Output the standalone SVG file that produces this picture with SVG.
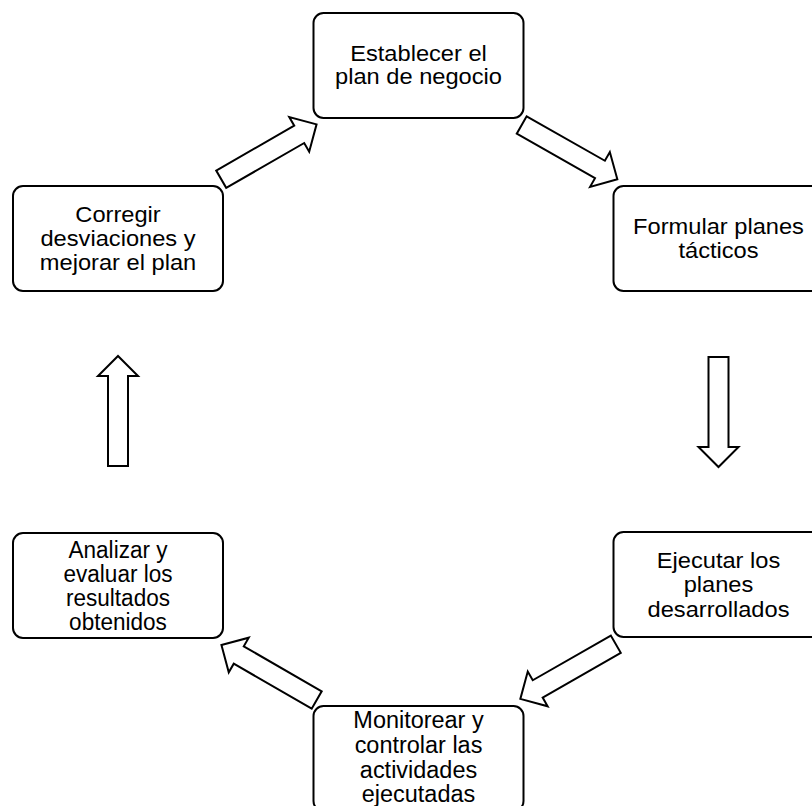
<svg xmlns="http://www.w3.org/2000/svg" xmlns:xlink="http://www.w3.org/1999/xlink" width="812" height="806" viewBox="0 0 812 806">
<style>
.box{fill:#fff;stroke:#000;stroke-width:2}
.arr{fill:#fff;stroke:#000;stroke-width:2;stroke-linejoin:miter}
.lbl{font-family:"Liberation Sans",Arial,Helvetica,sans-serif;font-size:21.5px;fill:#000;text-anchor:middle}
.lbl-m{font-size:23px}
.lbl-a{font-size:23.5px}
</style>
<defs>
<path id="blockArrow" d="M0,-10 L90,-10 L90,-20 L110,0 L90,20 L90,10 L0,10 Z"/>
</defs>
<rect width="812" height="806" fill="#fff"/>
<g id="connectors">
<use xlink:href="#blockArrow" href="#blockArrow" class="arr" transform="translate(221.2 179.2) rotate(-29.9)"/>
<use xlink:href="#blockArrow" href="#blockArrow" class="arr" transform="translate(521.7 125) rotate(29.6)"/>
<use xlink:href="#blockArrow" href="#blockArrow" class="arr" transform="translate(718.5 357) rotate(90)"/>
<use xlink:href="#blockArrow" href="#blockArrow" class="arr" transform="translate(615.8 644.2) rotate(150.2)"/>
<use xlink:href="#blockArrow" href="#blockArrow" class="arr" transform="translate(316.7 700) rotate(-150)"/>
<use xlink:href="#blockArrow" href="#blockArrow" class="arr" transform="translate(118 466) rotate(-90)"/>
</g>
<g id="node-establecer">
<rect class="box" x="313.5" y="13" width="210" height="105" rx="10"/>
<text class="lbl" transform="translate(418.5 0) scale(1.1 1)"><tspan x="0" y="61">Establecer el</tspan><tspan x="0" y="84">plan de negocio</tspan></text>
</g>
<g id="node-formular">
<rect class="box" x="613.5" y="186" width="210" height="105" rx="10"/>
<text class="lbl" transform="translate(718.5 0) scale(1.1 1)"><tspan x="0" y="234">Formular planes</tspan><tspan x="0" y="258">tácticos</tspan></text>
</g>
<g id="node-ejecutar">
<rect class="box" x="613.5" y="532" width="210" height="105" rx="10"/>
<text class="lbl" transform="translate(718.5 0) scale(1.1 1)"><tspan x="0" y="568">Ejecutar los</tspan><tspan x="0" y="592.5">planes</tspan><tspan x="0" y="617">desarrollados</tspan></text>
</g>
<g id="node-monitorear">
<rect class="box" x="313.5" y="706" width="210" height="105" rx="10"/>
<text class="lbl lbl-m" transform="translate(418.5 0) scale(1.02 1)"><tspan x="0" y="728.5">Monitorear y</tspan><tspan x="0" y="753.5">controlar las</tspan><tspan x="0" y="778">actividades</tspan><tspan x="0" y="802">ejecutadas</tspan></text>
</g>
<g id="node-analizar">
<rect class="box" x="13" y="533" width="210" height="105" rx="10"/>
<text class="lbl lbl-a" transform="translate(118 0) scale(0.96 1)"><tspan x="0" y="558">Analizar y</tspan><tspan x="0" y="582">evaluar los</tspan><tspan x="0" y="606">resultados</tspan><tspan x="0" y="630">obtenidos</tspan></text>
</g>
<g id="node-corregir">
<rect class="box" x="13" y="186" width="210" height="105" rx="10"/>
<text class="lbl" transform="translate(118 0) scale(1.1 1)"><tspan x="0" y="222">Corregir</tspan><tspan x="0" y="246">desviaciones y</tspan><tspan x="0" y="270">mejorar el plan</tspan></text>
</g>
</svg>
